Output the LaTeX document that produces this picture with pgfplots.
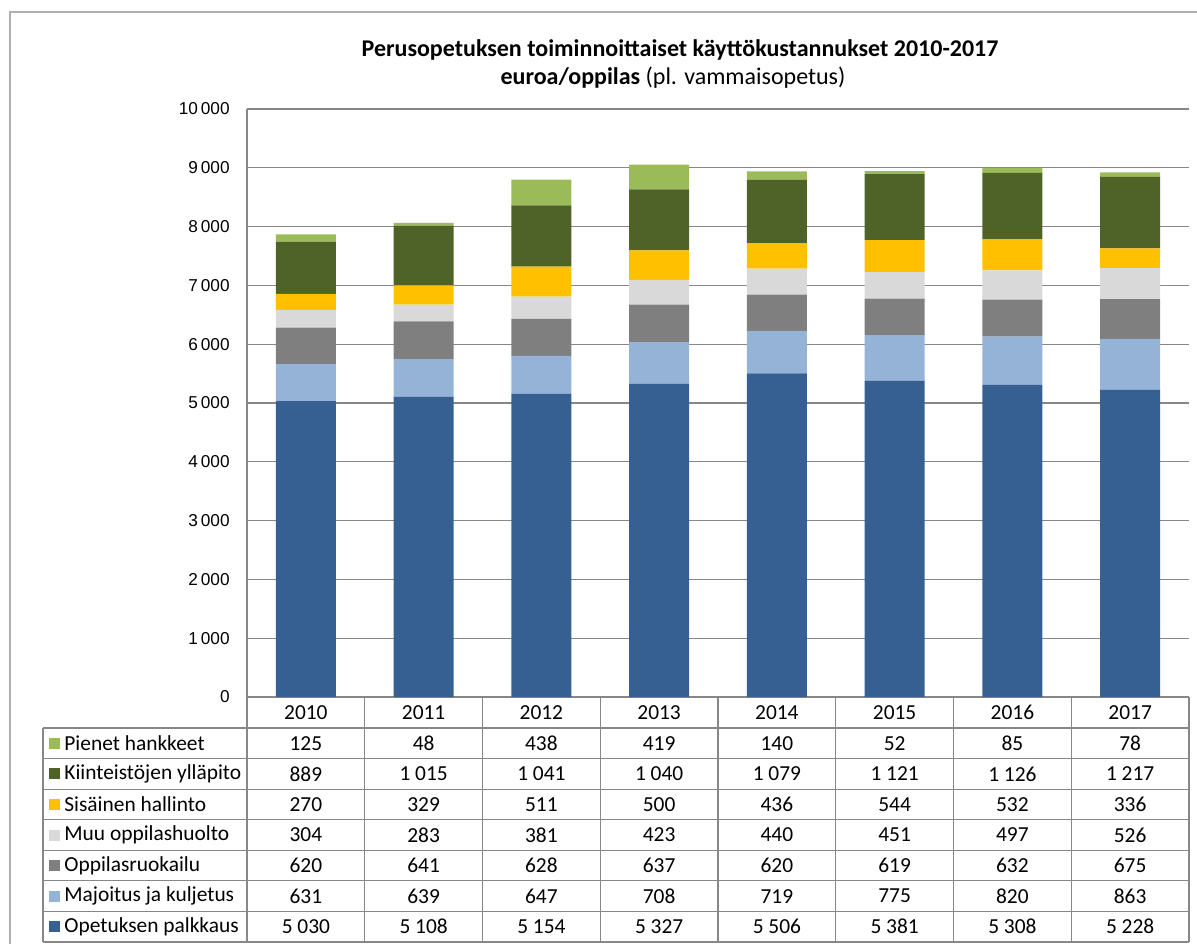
\documentclass[border=0pt]{standalone}
\usepackage{pgfplots}
\pgfplotsset{compat=1.18}
\usepackage{pgfplotstable}
\usepackage{fontspec}
\setmainfont{Carlito}
\newfontfamily\arialf{Liberation Sans}

\definecolor{cOpk}{RGB}{55,96,146}
\definecolor{cMaj}{RGB}{149,179,215}
\definecolor{cRuo}{RGB}{127,127,127}
\definecolor{cMuu}{RGB}{217,217,217}
\definecolor{cSis}{RGB}{255,192,0}
\definecolor{cKii}{RGB}{79,98,40}
\definecolor{cPie}{RGB}{155,187,89}
\definecolor{gridc}{RGB}{135,135,135}
\definecolor{framec}{RGB}{175,175,175}

\pgfplotstableread{
year opk maj ruo muu sis kii pie
2010 5030 631 620 304 270 889 125
2011 5108 639 641 283 329 1015 48
2012 5154 647 628 381 511 1041 438
2013 5327 708 637 423 500 1040 419
2014 5506 719 620 440 436 1079 140
2015 5381 775 619 451 544 1121 52
2016 5308 820 632 497 532 1126 85
2017 5228 863 675 526 336 1217 78
}\datatable

\begin{document}
\begin{tikzpicture}
\path[use as bounding box] (0,0) rectangle (598.5pt,472pt);
\begin{axis}[
  at={(123.5pt,123.5pt)}, anchor=south west,
  scale only axis, width=471pt, height=294pt,
  ybar stacked, bar width=30pt,
  xmin=-0.5, xmax=7.5, ymin=0, ymax=10000,
  ytick={0,1000,...,10000}, xtick=\empty,
  scaled y ticks=false,
  ymajorgrids, grid style={gridc, line width=0.6pt},
  axis lines*=left, axis line style={gridc, line width=0.6pt, -},
  major tick length=0pt,
  yticklabel style={font=\arialf\fontsize{8.6}{10}\selectfont, inner sep=0pt, xshift=-8.5pt,
    /pgf/number format/assume math mode=true, /pgf/number format/1000 sep={\,}},
  clip=false,
]
\addplot[fill=cOpk, draw=none] table[x expr=\coordindex, y=opk]{\datatable};
\addplot[fill=cMaj, draw=none] table[x expr=\coordindex, y=maj]{\datatable};
\addplot[fill=cRuo, draw=none] table[x expr=\coordindex, y=ruo]{\datatable};
\addplot[fill=cMuu, draw=none] table[x expr=\coordindex, y=muu]{\datatable};
\addplot[fill=cSis, draw=none] table[x expr=\coordindex, y=sis]{\datatable};
\addplot[fill=cKii, draw=none] table[x expr=\coordindex, y=kii]{\datatable};
\addplot[fill=cPie, draw=none] table[x expr=\coordindex, y=pie]{\datatable};
\end{axis}
\begin{scope}[x=0.5pt, y=-0.5pt, shift={(0,472pt)}, font=\fontsize{10.7}{12}\selectfont]
  % outer frame
  \draw[framec, line width=0.75pt] (10,944) -- (10,12) -- (1197,12);
  % title
  \node[font=\fontsize{12}{14}\selectfont\bfseries] at (680,50) {Perusopetuksen toiminnoittaiset käyttökustannukset 2010-2017};
  \node[font=\fontsize{12}{14}\selectfont] at (673,78) {\textbf{euroa/oppilas} (pl. vammaisopetus)};
  % table grid
  \foreach \i in {0,...,7} {
    \pgfmathsetmacro\yy{728+\i*30.57}
    \draw[gridc, line width=0.6pt] (43,\yy) -- (1189,\yy);
  }
  \draw[gridc, line width=0.6pt] (43,728) -- (43,942);
  \foreach \j in {0,...,8} {
    \pgfmathsetmacro\xx{247+\j*117.75}
    \draw[gridc, line width=0.6pt] (\xx,697) -- (\xx,942);
  }
  % header
  \foreach \j in {0,...,7} {
    \pgfplotstablegetelem{\j}{year}\of\datatable
    \pgfmathsetmacro\xc{247+(\j+0.5)*117.75}
    \node at (\xc,712.5) {\pgfplotsretval};
  }
  % rows
  \foreach \key/\lab/\col [count=\r from 0] in {pie/Pienet hankkeet/cPie, kii/Kiinteistöjen ylläpito/cKii, sis/Sisäinen hallinto/cSis, muu/Muu oppilashuolto/cMuu, ruo/Oppilasruokailu/cRuo, maj/Majoitus ja kuljetus/cMaj, opk/Opetuksen palkkaus/cOpk} {
    \pgfmathsetmacro\yc{728+(\r+0.5)*30.57}
    \fill[\col] (49,\yc-5.5) rectangle (60,\yc+5.5);
    \node[anchor=west, inner sep=0pt] at (64,\yc) {\lab};
    \foreach \j in {0,...,7} {
      \pgfplotstablegetelem{\j}{\key}\of\datatable
      \pgfmathsetmacro\xc{247+(\j+0.5)*117.75}
      \node at (\xc,\yc) {\pgfmathprintnumber[assume math mode=true,1000 sep={\ }]{\pgfplotsretval}};
    }
  }
\end{scope}
\end{tikzpicture}
\end{document}
